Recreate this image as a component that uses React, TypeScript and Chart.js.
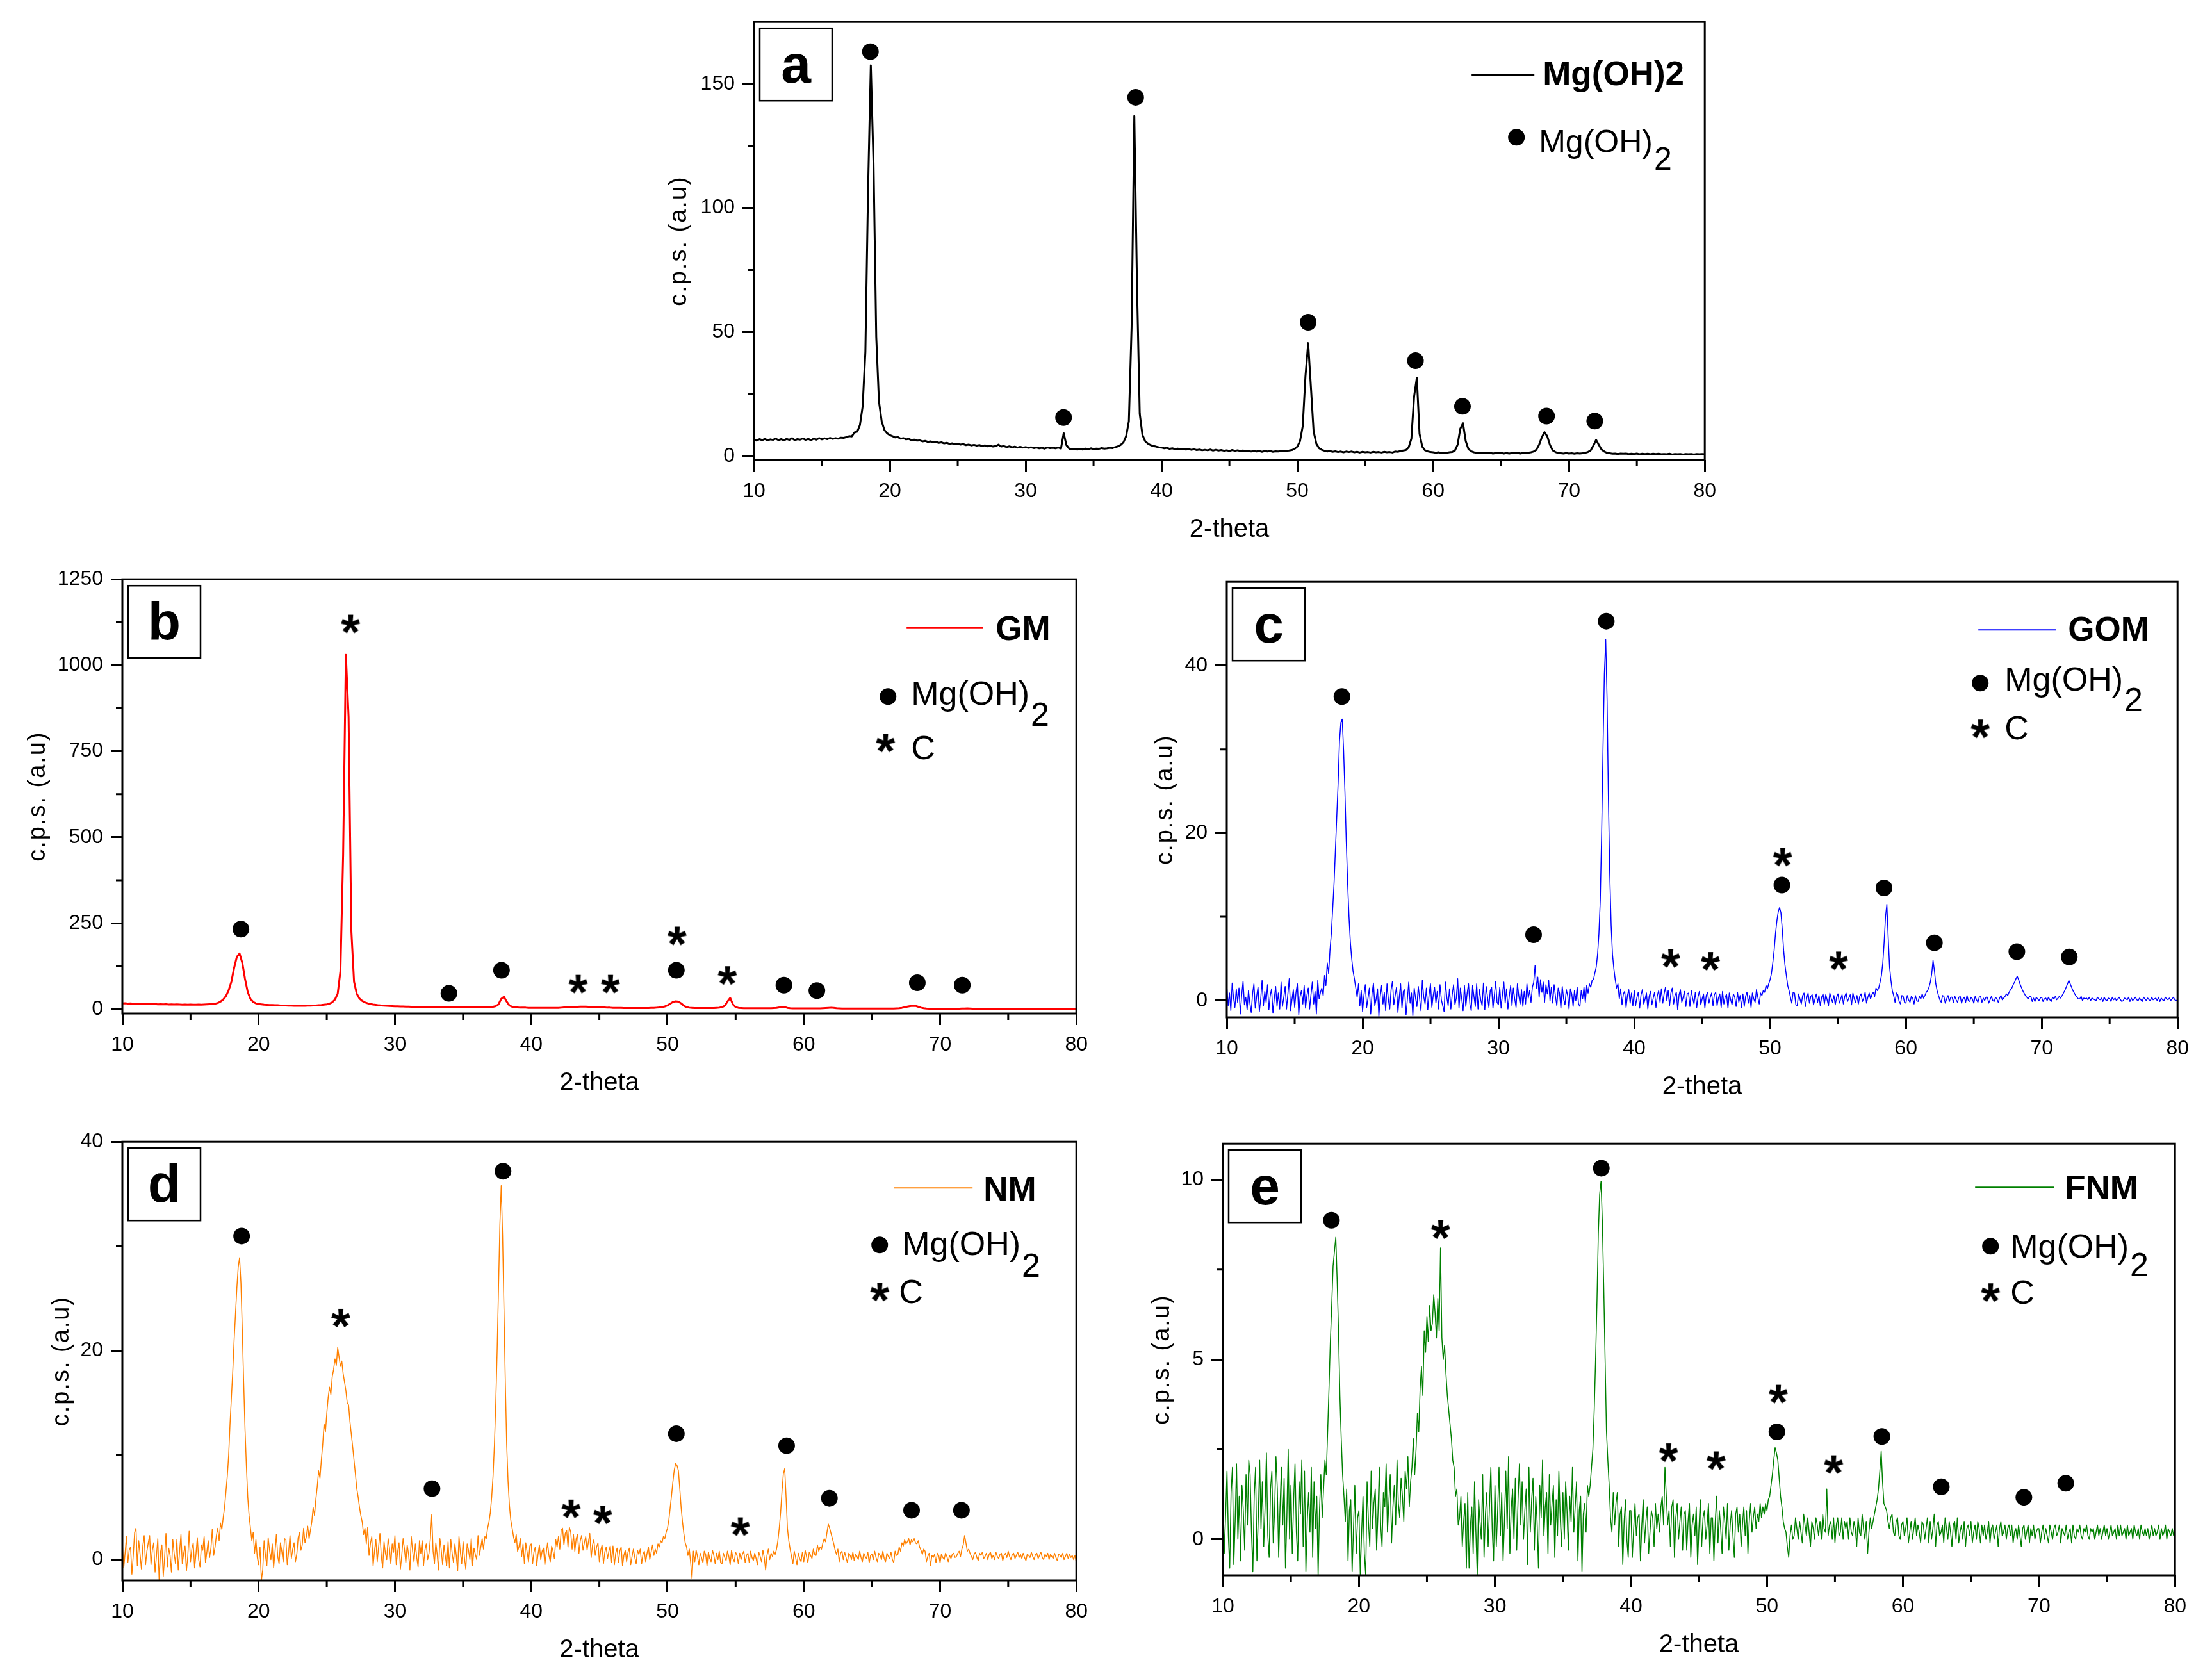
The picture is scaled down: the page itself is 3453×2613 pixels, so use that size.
import React, { useEffect, useRef } from 'react';
import Chart from 'chart.js/auto';

const FONT = '"Liberation Sans", Arial, Helvetica, sans-serif';

// scan grids (2-theta, degrees): 0.2 deg step for a/b, 0.1 deg step for c/d/e
const twoTheta: number[] = Array.from({ length: 351 }, (_, i) => Math.round((10 + i * 0.2) * 10) / 10);
const twoThetaFine: number[] = Array.from({ length: 701 }, (_, i) => Math.round((10 + i * 0.1) * 10) / 10);
const xTicks = [10, 20, 30, 40, 50, 60, 70, 80];
const xMinorTicks = [15, 25, 35, 45, 55, 65, 75];

// (a) Mg(OH)2
const cpsMgOH2 = [
  6.6, 6.2, 6.8, 6.4, 6.9, 6.3, 6.7, 6.5, 7.0, 6.4,
  6.8, 6.3, 6.9, 6.5, 7.2, 6.4, 6.8, 6.6, 7.1, 6.5,
  6.9, 6.4, 7.0, 6.6, 7.2, 6.7, 7.1, 6.8, 7.3, 6.9,
  7.2, 7.0, 7.4, 7.3, 7.6, 8.0, 7.9, 9.5, 9.8, 12.5,
  20, 42, 108, 157.5, 118, 48, 22, 14, 10.5, 9.2,
  8.4, 8.0, 7.5, 7.6, 7.0, 7.2, 6.7, 6.9, 6.4, 6.6,
  6.2, 6.3, 5.9, 6.1, 5.7, 5.9, 5.5, 5.7, 5.3, 5.5,
  5.1, 5.3, 4.9, 5.1, 4.7, 5.0, 4.6, 4.8, 4.4, 4.6,
  4.3, 4.5, 4.2, 4.4, 4.0, 4.3, 3.9, 4.1, 3.8, 4.0,
  4.6, 3.8, 4.0, 3.6, 3.9, 3.5, 3.8, 3.4, 3.7, 3.4,
  3.6, 3.3, 3.5, 3.2, 3.4, 3.1, 3.3, 3.0, 3.4, 3.2,
  3.3, 3.1, 3.4, 3.0, 9.2, 4.4, 3.0, 2.7, 2.9, 2.6,
  2.9, 2.6, 3.0, 2.7, 3.1, 2.8, 3.0, 2.9, 3.2, 3.0,
  3.1, 3.3, 3.2, 3.6, 3.9, 4.5, 5.5, 8.0, 14, 52,
  137, 68, 17, 8.5, 6.0, 5.0, 4.4, 4.0, 3.8, 3.5,
  3.4, 3.1, 3.3, 2.9, 3.1, 2.8, 3.0, 2.7, 2.9, 2.6,
  2.8, 2.5, 2.7, 2.4, 2.6, 2.3, 2.5, 2.3, 2.6, 2.2,
  2.5, 2.2, 2.4, 2.1, 2.3, 2.0, 2.4, 2.1, 2.3, 2.0,
  2.2, 1.9, 2.1, 1.8, 2.1, 1.8, 2.0, 1.7, 2.0, 1.8,
  2.0, 1.7, 1.9, 1.8, 2.0, 1.9, 2.1, 2.2, 2.4, 2.9,
  3.8, 6.0, 12, 32, 45.5, 28, 10, 5.0, 3.2, 2.5,
  2.1, 1.8, 2.0, 1.7, 1.9, 1.6, 1.8, 1.5, 1.8, 1.6,
  1.8, 1.5, 1.7, 1.4, 1.7, 1.5, 1.6, 1.4, 1.7, 1.5,
  1.6, 1.4, 1.7, 1.5, 1.6, 1.4, 1.8, 1.7, 2.0, 2.2,
  2.4, 3.5, 7.0, 24, 31.5, 9.0, 3.8, 2.3, 1.9, 1.6,
  1.5, 1.3, 1.5, 1.2, 1.4, 1.3, 1.5, 1.6, 2.2, 4.5,
  11, 13.2, 6.0, 2.8, 1.9, 1.5, 1.3, 1.4, 1.2, 1.3,
  1.1, 1.3, 1.0, 1.2, 1.1, 1.3, 1.0, 1.2, 1.0, 1.2,
  1.1, 1.3, 1.0, 1.2, 1.1, 1.3, 1.5, 1.8, 2.5, 4.5,
  7.5, 9.6, 8.0, 4.5, 2.3, 1.6, 1.2, 1.1, 1.0, 1.2,
  1.0, 1.1, 0.9, 1.1, 1.0, 1.1, 1.3, 1.6, 2.3, 4.2,
  6.5, 4.5, 2.6, 1.8, 1.3, 1.1, 0.9, 1.0, 0.8, 1.0,
  0.9, 1.0, 0.8, 0.9, 0.8, 1.0, 0.7, 0.9, 0.8, 0.9,
  0.7, 0.9, 0.8, 0.9, 0.7, 0.8, 0.7, 0.9, 0.6, 0.8,
  0.7, 0.8, 0.6, 0.8, 0.7, 0.8, 0.6, 0.8, 0.7, 0.8,
  0.7,
];
const mgPeaksA: [number, number][] = [
  [18.57, 163], [32.79, 15.5], [38.1, 144.6], [50.8, 53.9], [58.7, 38.4], [62.16, 20.0], [68.35, 16.1], [71.9, 14.1],
];

// (b) GM
const cpsGM = [
  17, 17.5, 16.5, 17, 16, 16.5, 15.5, 16, 15, 15.5,
  15, 14.5, 15, 14, 14.5, 14, 14.5, 13.5, 14, 13.5,
  14, 13.5, 13, 13.5, 13, 13.5, 13, 13, 13.5, 13,
  13.5, 14, 14.5, 15, 16, 18, 22, 28, 38, 55,
  80, 120, 152, 162, 135, 88, 50, 30, 21, 17,
  15, 14, 13, 12.5, 12, 12, 11.5, 11.5, 11, 11,
  11, 10.5, 10.5, 10, 10, 10, 10, 10, 10.5, 10.5,
  11, 11, 11.5, 12, 13, 14, 16, 20, 28, 45,
  110, 450, 1030, 850, 230, 80, 45, 31, 24, 20,
  17, 15, 13.5, 12.5, 11.5, 11, 10.5, 10, 9.5, 9,
  8.5, 8.5, 8, 8, 7.5, 7.5, 7, 7, 7, 6.5,
  6.5, 6.5, 6, 6, 6, 6, 5.5, 5.5, 5.5, 5.5,
  5.5, 5, 5, 5, 5, 5, 5, 5, 5, 5,
  5, 5, 5, 5, 5.5, 6, 7, 9, 14, 30,
  36, 22, 11, 7, 5.5, 5, 4.5, 4.5, 4.5, 4,
  4, 4, 4, 4, 4, 4, 4, 4, 4, 4,
  4, 4.5, 5, 5.5, 6, 6.5, 7, 7, 7.5, 7.5,
  7.5, 7, 7, 6.5, 6, 5.5, 5, 5, 4.5, 4.5,
  4, 4, 4, 4, 3.5, 3.5, 3.5, 3.5, 3.5, 3.5,
  3.5, 3.5, 3.5, 3.5, 4, 4, 4.5, 5, 6, 8,
  11, 16, 21, 23, 22, 17, 10, 6, 4.5, 4,
  3.5, 3.5, 3.5, 3.5, 3.5, 3.5, 3.5, 3.5, 4, 4.5,
  6, 10, 22, 33, 14, 6, 4, 3.5, 3, 3,
  3, 3, 3, 3, 3, 3, 3, 3, 3, 3.5,
  4, 5, 7, 6, 4, 3, 2.5, 2.5, 2.5, 2.5,
  2.5, 2.5, 2.5, 2.5, 2.5, 2.5, 2.5, 3, 3.5, 4,
  4.5, 4, 3, 2.5, 2, 2, 2, 2, 2, 2,
  2, 2, 2, 2, 2, 2, 2, 2, 2, 2,
  2, 2, 2, 2, 2.5, 3, 4, 5.5, 7.5, 9,
  10, 9.5, 7, 4.5, 3, 2, 1.5, 1.5, 1.5, 1.5,
  1.5, 1.5, 1.5, 1.5, 1.5, 1.5, 1.5, 1.5, 2, 2,
  2.5, 2, 1.5, 1.5, 1, 1, 1, 1, 1, 1,
  1, 1, 1, 0.9, 0.9, 0.9, 0.8, 0.8, 0.8, 0.8,
  0.7, 0.7, 0.7, 0.7, 0.6, 0.6, 0.6, 0.6, 0.5, 0.5,
  0.5, 0.5, 0.5, 0.4, 0.4, 0.4, 0.4, 0.3, 0.3, 0.3,
  0.3,
];
const mgPeaksB: [number, number][] = [
  [18.7, 233], [33.96, 46], [37.82, 113], [50.65, 113], [58.54, 70], [60.96, 54], [68.33, 77], [71.63, 70],
];
const cPeaksB: [number, number][] = [[26.74, 1119], [43.44, 72], [45.81, 72], [50.7, 212], [54.39, 97]];

// (c) GOM, 0.1 deg step
const cpsGOM = [
  1.8, -0.6, 0.9, -1.2, 2.1, 0.3, -0.8, 1.4, -0.2, 1.5, -1.6, 0.7, 2.3, -0.5, 0.4, -1.1, 1.2, -0.3, -1.4, 0.8,
  2.0, -0.9, 0.5, 1.6, -1.3, 0.2, 2.4, -0.6, 1.1, -0.2, 1.9, -1.1, 0.6, 1.4, -1.5, 0.3, 1.7, -0.7, 0.9, -1.0,
  2.2, -0.7, 0.4, 1.7, -1.0, 0.8, 2.6, -1.2, 0.1, 1.3, -0.8, 1.0, 2.0, -1.7, 0.5, 1.2, -0.4, 1.8, -0.9, 0.6,
  1.5, -1.0, 0.7, 2.2, -0.4, 1.1, -1.6, 2.4, 0.2, 1.0, 1.5, 0.6, 3.0, 1.8, 4.5, 3.2, 6, 8, 11, 14,
  18, 22, 26, 31, 33.2, 33.6, 30, 25, 19, 14, 10, 7, 5, 3.5, 2.6, 1.5, 0.4, 2.0, -0.6, 1.2,
  -1.3, 0.6, 1.9, -0.8, 0.3, 1.5, -1.6, 0.9, 2.1, -0.6, 0.2, 1.4, -1.9, 0.5, 1.8, -0.4, 1.0, -1.2, 2.0, 0.1,
  -1.0, 1.3, 2.3, -0.5, 0.6, 1.6, -1.4, 0.4, 2.0, -0.9, 1.1, 1.3, -1.7, 0.2, 2.2, -0.3, 0.9, -1.8, 1.5, 0.3,
  -0.7, 1.7, 0.2, -1.2, 2.4, 0.5, -0.4, 1.5, -1.1, 0.8, 2.0, -0.8, 0.6, 1.6, -0.3, 1.1, -1.0, 1.9, 0.1, -0.6,
  -1.3, 2.2, 0.4, -0.6, 1.4, -1.0, 0.7, 1.9, -0.5, 0.3, 2.6, -0.9, 1.5, 0.2, -1.2, 1.8, -0.7, 0.9, 2.0, -0.4,
  -1.2, 1.8, 0.5, -0.7, 2.0, -1.0, 1.3, 0.1, -0.6, 2.1, -1.1, 1.7, 0.4, -0.8, 1.2, 1.6, -0.9, 0.6, 2.3, -0.2,
  -0.5, 1.6, -0.9, 0.8, 2.2, -0.3, 1.4, -1.0, 0.5, 1.8, -0.6, 1.5, 0.2, -0.8, 2.0, 0.6, -0.4, 1.3, -0.7, 1.1,
  -0.4, 2.0, 0.3, 1.2, -0.2, 1.6, 2.2, 4.2, 1.5, 2.8, 0.4, 2.5, 1.0, 2.2, -0.2, 1.9, 0.8, 2.4, 0.0, 1.6,
  -0.3, 1.9, 0.5, -0.6, 1.5, 0.9, -0.9, 1.7, 0.2, -0.5, 1.3, 0.6, -1.0, 1.4, 0.8, -0.7, 1.2, 0.0, 1.6, -0.4,
  -0.7, 1.2, 0.2, 1.6, -0.2, 1.8, 0.9, 2.0, 1.6, 2.4, 2.5, 3.3, 4, 5.5, 8, 12, 20, 30, 39, 43.1,
  36, 24, 15, 9, 5.5, 3.8, 2.5, 1.5, 2.0, 0.2, 1.4, -0.5, 0.8, 1.1, -0.8, 0.6, 1.3, -0.3, 0.9, -0.6,
  1.2, -0.6, 0.4, 1.0, -0.9, 0.7, 1.3, -0.4, 0.2, 0.9, -1.0, 0.5, 1.1, -0.5, 0.3, 1.0, -0.8, 0.6, 1.2, -0.2,
  1.4, -0.3, 0.8, 1.6, 0.0, 1.2, -0.6, 0.9, 1.5, -0.4, 0.6, 1.0, -1.1, 0.7, 1.3, -0.2, 0.4, 1.1, -0.7, 0.8,
  0.9, -0.7, 1.2, 0.3, -0.4, 1.0, -0.8, 0.5, 1.1, -0.5, 0.2, 0.8, -0.9, 0.6, 1.0, -0.3, 0.4, 0.9, -0.6, 0.7,
  1.0, -0.6, 0.3, 0.8, -0.8, 1.1, -0.4, 0.5, 0.7, -0.9, 0.9, 0.1, -0.5, 0.8, 0.4, -0.7, 1.0, -0.2, 0.6, -0.8,
  0.8, -0.7, 0.5, 1.0, -0.3, 0.6, -0.8, 0.9, 0.2, -0.2, 1.3, 0.4, -0.4, 0.9, 0.6, 1.2, 1.0, 1.8, 1.4, 2.0,
  2.5, 3.2, 4.5, 6, 8, 9.5, 10.6, 11.1, 10.5, 8.5, 6, 4.2, 3, 1.8, 1.2, 0.4, -0.3, 1.0, 0.9, -0.5,
  -0.6, 0.8, 0.2, -0.4, 0.6, 0.9, -0.7, 0.3, 0.9, -0.3, 0.5, 0.7, -0.5, 0.1, 0.8, -0.2, 0.6, -0.6, 0.4, 0.8,
  -0.4, 0.7, 0.1, -0.6, 0.9, 0.3, -0.2, 0.6, -0.5, 0.4, 0.8, -0.3, 0.2, 0.7, -0.4, 0.5, 0.9, -0.1, 0.3, 0.7,
  -0.5, 0.9, 0.2, -0.2, 0.6, -0.4, 0.5, 0.8, -0.1, 0.3, 1.0, -0.3, 0.4, 0.9, 0.2, 0.7, 1.0, 0.5, 1.5, 1.2,
  1.5, 2.2, 3, 4.5, 7, 10, 11.5, 7.5, 4, 2.4, 1.2, 0.6, -0.2, 0.9, 0.7, -0.1, -0.4, 0.6, 0.5, -0.2,
  -0.3, 0.6, 0.1, -0.2, 0.5, 0.3, -0.4, 0.6, 0.0, -0.1, 0.5, 0.2, 0.8, 0.3, 0.6, 1.0, 1.2, 1.6, 2.2, 3.2,
  4.8, 3.6, 2.0, 1.2, 0.6, 0.1, -0.2, 0.6, 0.5, -0.3, 0.2, 0.6, -0.1, 0.4, 0.4, -0.2, 0.5, 0.1, -0.2, 0.4,
  0.5, -0.3, 0.2, 0.4, -0.2, 0.6, 0.0, -0.1, 0.4, 0.2, -0.3, 0.5, 0.1, -0.2, 0.4, 0.5, -0.2, 0.3, 0.0, 0.4,
  0.4, -0.3, 0.1, 0.5, 0.0, -0.1, 0.4, 0.2, -0.2, 0.3, 0.6, 0.1, 0.3, 0.5, 0.8, 0.6, 1.0, 1.3, 1.5, 1.9,
  2.2, 2.6, 2.9, 2.5, 2.0, 1.6, 1.2, 0.9, 0.6, 0.4, 0.2, 0.5, 0.5, -0.1, 0.3, -0.1, 0.4, 0.2, 0.0, 0.3,
  0.4, -0.1, 0.2, 0.3, 0.0, 0.4, 0.1, -0.1, 0.4, 0.2, 0.5, 0.1, 0.3, 0.5, 0.3, 0.6, 0.9, 1.2, 1.6, 2.0,
  2.4, 2.0, 1.6, 1.2, 0.9, 0.6, 0.4, 0.2, 0.2, 0.5, 0.0, 0.3, 0.2, 0.3, 0.1, 0.4, 0.0, 0.3, 0.2, 0.1,
  0.0, 0.4, 0.2, 0.1, 0.3, -0.1, 0.4, 0.1, 0.0, 0.3, 0.2, -0.1, 0.4, 0.1, 0.3, 0.0, 0.2, 0.4, 0.1, -0.1,
  0.0, 0.3, 0.2, 0.1, 0.4, -0.1, 0.3, 0.0, 0.2, 0.4, 0.1, 0.0, 0.3, 0.1, -0.1, 0.4, 0.2, 0.0, 0.3, 0.1,
  0.0, 0.4, 0.1, 0.2, 0.3, 0.0, 0.4, -0.1, 0.3, 0.1, 0.0, 0.4, 0.2, 0.1, 0.3, 0.0, 0.2, 0.4, 0.1, 0.0,
  0.1,
];
const mgPeaksC: [number, number][] = [
  [18.48, 36.3], [32.59, 7.87], [37.94, 45.3], [50.87, 13.8], [58.39, 13.45], [62.1, 6.9], [68.17, 5.84], [72.03, 5.2],
];
const cPeaksC: [number, number][] = [[42.68, 4.99], [45.61, 4.65], [50.92, 17.1], [55.04, 4.7]];

// (d) NM, 0.1 deg step
const cpsNM = [
  1.5, -0.8, 0.6, 2.2, -0.3, 0.9, 1.2, -1.4, 0.4, 2.6, 3.0, -0.6, 1.8, 0.5, -0.9, 1.3, 2.3, -0.5, 0.8, 1.6,
  2.3, -0.5, 0.9, 1.6, -1.2, 0.3, 2.0, -2.0, 0.7, 1.4, -1.6, 0.2, 2.5, -0.7, 1.1, 0.4, -1.2, 1.9, 0.6, -0.4,
  1.9, -1.0, 0.8, 2.4, -0.4, 0.6, 1.3, -1.1, 0.3, 2.7, -0.2, 1.0, 1.6, -0.8, 0.5, 2.1, 0.0, -0.7, 1.4, 0.9,
  2.2, -0.3, 0.7, 1.8, 0.2, 1.1, 2.9, 0.4, 1.2, 2.3, 3.0, 1.8, 3.5, 2.9, 4.0, 5.0, 6.5, 8, 10, 13,
  15.5, 18, 21, 23.5, 26, 28, 28.9, 26.5, 22, 17, 12.5, 9, 6, 4.2, 3, 1.8, 2.6, 0.6, 1.9, 0.2,
  -0.5, 1.2, -2.0, -1.0, 1.8, 0.4, -0.6, 2.1, 0.9, 0.0, 1.5, -0.8, 0.7, 2.4, 0.3, -0.4, 1.6, 0.8, -0.2, 2.0,
  1.9, -0.5, 0.7, 2.3, 0.1, 1.0, 1.6, -0.2, 0.5, 2.1, 2.6, 0.9, 1.4, 3.0, 1.6, 2.2, 3.2, 2.0, 2.8, 3.6,
  5.0, 4.2, 5.8, 7.0, 8.5, 7.8, 9.5, 11, 13, 12.2, 14, 15.5, 16.5, 15.8, 17.5, 18.2, 19.2, 18.6, 20.3, 19.4,
  18.5, 19.0, 17.8, 17.0, 16.2, 15.0, 14.8, 13.2, 12.0, 10.8, 9.5, 8.2, 6.8, 6.0, 5.0, 4.2, 3.6, 2.4, 3.0, 1.5,
  3.1, 0.4, 1.5, 2.2, -0.6, 0.8, 1.9, -0.2, 1.2, 2.5, 0.3, -0.8, 1.7, 0.6, 0.0, 2.0, 1.1, -0.4, 1.5, 0.7,
  2.3, -0.5, 0.8, 1.6, -0.9, 0.4, 2.0, 1.0, -0.3, 1.4, 0.5, -1.0, 2.2, 0.8, -0.2, 1.5, 0.2, -0.7, 1.8, 0.6,
  1.8, -0.6, 0.9, 1.5, 0.0, 0.6, 2.0, 4.3, 0.8, -0.4, 1.6, 0.5, -1.0, 2.0, 0.9, -0.5, 1.4, 0.3, -0.6, 1.7,
  -0.8, 1.9, 0.6, -0.3, 1.5, 0.4, -1.1, 2.2, 0.7, -0.4, 1.7, 0.2, -0.9, 1.5, 0.9, 0.0, 2.0, -0.6, 1.1, 0.5,
  0.0, 2.3, 0.4, 1.2, 2.0, 1.0, 2.2, 2.0, 3.0, 3.6, 4.5, 6, 8, 11, 15, 20, 26, 32, 35.8, 31,
  24, 17, 11, 7.5, 5.2, 3.8, 3.0, 2.2, 1.6, 2.4, 0.8, 1.2, 2.0, 0.3, 1.5, -0.4, 1.6, 0.7, -0.2, 1.3,
  1.5, -0.4, 0.7, 1.2, -0.6, 0.5, 1.4, 0.0, 0.8, 1.1, -0.5, 0.6, 1.6, 0.4, -0.2, 1.3, 0.8, 0.1, 1.9, 1.2,
  2.2, 1.0, 2.8, 3.0, 1.4, 2.5, 2.8, 1.2, 3.1, 2.6, 1.0, 2.4, 0.8, 2.0, 2.4, 0.6, 1.8, 2.3, 0.9, 1.6,
  2.2, 0.9, 1.7, 2.5, 0.2, 1.4, 1.9, 0.4, 1.2, 1.6, -0.2, 0.9, 1.4, -0.4, 0.7, 1.2, 0.1, 0.8, 1.3, -0.3,
  1.3, -0.5, 0.6, 1.1, -0.3, 0.8, 1.2, -0.6, 0.4, 0.9, -0.2, 0.7, 1.1, -0.5, 0.3, 1.0, 0.2, -0.4, 0.9, 0.5,
  1.0, -0.4, 0.5, 0.8, -0.2, 0.6, 1.2, 0.0, 0.7, 1.4, 0.4, 1.0, 0.6, 1.5, 1.2, 1.8, 1.6, 2.2, 2.0, 2.6,
  3.0, 3.8, 5.0, 6.2, 7.5, 8.6, 9.2, 9.0, 8.5, 6.8, 5.0, 3.6, 2.5, 1.6, 1.2, 0.4, 1.0, -0.3, -1.8, 0.8,
  -0.2, 0.9, 0.3, -0.5, 0.6, 0.2, -0.3, 0.8, 0.5, -0.6, 0.7, 0.1, -0.2, 0.9, 0.4, -0.4, 0.6, 0.0, 0.8, -0.3,
  -0.4, 0.6, 0.2, -0.1, 0.8, 0.3, -0.5, 0.9, 0.1, -0.2, 0.7, 0.4, -0.4, 0.6, 0.0, 0.5, 0.8, -0.3, 0.4, 0.6,
  -0.3, 0.8, 0.2, -0.1, 0.6, 0.1, -0.5, 0.7, 0.3, -0.2, 0.9, 0.2, -1.0, 0.4, 1.0, 0.0, 0.6, 0.3, 0.8, 0.5,
  1.0, 1.8, 3, 4.5, 6.5, 8.2, 8.7, 6.0, 3, 1.8, 1.0, 0.3, -0.4, 0.8, 0.2, -0.5, 0.6, 0.1, -0.2, 0.7,
  -0.2, 0.9, 0.3, -0.3, 0.7, 0.4, 0.1, 1.0, 0.5, 0.4, 1.4, 0.8, 1.2, 1.0, 1.6, 2.0, 1.7, 2.6, 3.4, 3.0,
  2.5, 2.0, 1.5, 0.9, 0.5, 1.0, -0.2, 0.6, 0.8, 0.0, 0.7, 0.2, -0.3, 0.6, 0.4, 0.0, 0.7, -0.1, 0.5, 0.3,
  0.0, 0.8, 0.2, -0.2, 0.6, 0.3, 0.1, 0.7, -0.3, 0.4, 0.5, 0.0, 0.8, 0.2, -0.2, 0.6, 0.4, 0.0, 0.8, 0.1,
  -0.2, 0.6, 0.3, 0.1, 0.7, 0.0, -0.3, 0.8, 0.4, 0.5, 1.2, 0.8, 1.6, 1.3, 1.9, 1.5, 1.7, 2.0, 1.4, 1.9,
  1.7, 2.0, 1.6, 1.5, 1.8, 1.2, 0.9, 0.5, 1.0, 0.8, -0.2, 0.3, 0.6, -0.6, 0.4, 0.2, 0.5, -0.3, 0.6, 0.4,
  -0.3, 0.5, 0.2, 0.0, 0.6, 0.3, -0.2, 0.4, 0.1, 0.5, 0.6, 0.2, 0.3, 0.6, 0.8, 0.3, 1.0, 1.4, 2.3, 1.6,
  0.8, 1.0, 0.6, 0.3, 0.0, 0.5, 0.7, 0.2, -0.1, 0.6, 0.4, 0.7, 0.1, 0.3, 0.6, 0.0, 0.5, 0.7, 0.1, 0.4,
  0.0, 0.7, 0.3, 0.1, 0.5, 0.6, -0.1, 0.4, 0.6, 0.2, 0.8, 0.3, 0.0, 0.5, 0.6, 0.1, 0.4, 0.7, 0.2, 0.5,
  0.1, 0.6, 0.2, -0.1, 0.5, 0.4, 0.2, 0.7, 0.3, 0.0, 0.5, 0.6, 0.1, 0.4, 0.7, 0.2, 0.0, 0.5, 0.3, 0.6,
  0.0, 0.5, 0.3, 0.1, 0.6, 0.2, -0.1, 0.5, 0.4, 0.2, 0.6, 0.0, 0.3, 0.6, 0.1, 0.5, 0.2, 0.4, 0.0, 0.4,
  -0.3,
];
const mgPeaksD: [number, number][] = [
  [18.75, 30.97], [32.72, 6.79], [37.93, 37.18], [50.65, 12.05], [58.74, 10.9], [61.88, 5.87], [67.91, 4.72], [71.57, 4.72],
];
const cPeaksD: [number, number][] = [[26.02, 23.09], [42.92, 4.82], [45.24, 4.25], [55.34, 3.12]];

// (e) FNM, 0.1 deg step
const cpsFNM = [
  1.6, -0.4, 0.7, 1.9, 0.1, -0.8, 1.3, 2.0, -0.7, 0.5, 2.1, 0.0, 1.2, -0.6, 1.5, 0.8, -0.3, 1.8, 0.4, 2.2,
  1.8, 0.2, -0.9, 1.2, 2.0, -0.6, 0.6, 2.2, 0.3, 1.6, -0.2, 0.9, 2.4, 0.1, -0.5, 1.4, 1.9, -0.1, 0.8, 2.3,
  1.4, -0.5, 0.9, 2.0, 0.4, 1.7, -0.8, 0.6, 2.5, 0.0, 1.5, -0.4, 1.1, 2.1, 0.2, -0.6, 1.6, 0.7, 2.2, -0.2,
  1.9, -0.9, 0.5, 1.3, 0.2, 2.0, -0.5, 1.6, 0.3, 1.2, -1.0, 0.8, 1.8, 0.6, 1.4, 2.2, 1.8, 3.0, 4.2, 5.5,
  6.5, 7.6, 8.0, 8.4, 7.2, 5.8, 4.0, 2.8, 1.8, 1.2, 0.5, 1.4, -0.6, 0.8, 1.1, -0.9, 0.3, 1.5, -0.4, 0.6,
  0.8, -1.0, 0.2, 1.2, -0.4, -1.0, 1.6, 0.5, -0.2, 1.9, 0.3, 1.0, 1.4, -0.3, 0.7, 2.0, 0.4, -0.2, 1.3, 0.9,
  2.1, 0.2, 1.0, 1.8, -0.1, 0.9, 1.5, 0.4, 2.2, 1.0, 0.6, 1.7, 1.2, 0.5, 1.9, 1.4, 2.3, 0.9, 1.6, 2.0,
  2.8, 1.8, 2.5, 3.5, 3.0, 4.2, 4.8, 4.0, 5.8, 5.2, 6.2, 5.5, 6.5, 5.8, 6.0, 6.8, 6.3, 5.6, 6.7, 5.8,
  8.1, 5.6, 5.0, 5.4, 4.6, 4.0, 3.6, 3.2, 2.8, 2.2, 2.0, 1.2, 1.4, 0.4, 0.6, 1.2, -0.2, 0.5, 1.0, -0.8,
  1.3, -0.8, 0.4, 0.9, -0.4, 1.6, 0.2, -1.0, 1.1, 0.5, 0.0, 1.8, -0.5, 0.7, 1.3, -0.2, 0.9, 2.0, 0.3, -0.6,
  1.5, -0.2, 0.8, 2.0, 0.1, 1.3, -0.6, 0.5, 1.9, 0.3, 2.3, -0.4, 0.9, 1.4, 0.0, 1.7, -0.3, 1.1, 2.1, 0.4,
  1.6, 0.0, 0.8, 1.4, -0.7, 2.0, 0.2, 1.1, 1.7, -0.3, 1.2, 0.5, -0.8, 1.5, 0.6, 2.2, 0.1, 0.9, 1.3, -0.4,
  1.8, 0.4, 1.0, 1.5, -0.5, 1.1, 0.1, 1.9, 0.6, -0.2, 1.3, 0.0, 1.6, 0.8, -0.3, 1.2, 0.5, 2.0, 0.2, 0.9,
  1.6, -0.6, 0.8, 1.2, -0.9, 0.7, 1.0, 0.2, 1.5, 1.2, 1.5, 2.0, 2.5, 3.6, 5.0, 6.6, 8.5, 9.6, 9.95, 8.8,
  7.0, 5.0, 3.0, 2.2, 1.5, 0.6, 0.2, 1.3, 0.4, 1.0, 1.3, -0.2, 0.7, 0.9, -0.7, 0.5, 1.1, 0.0, -0.5, 0.8,
  0.8, -0.5, 0.3, 1.0, 0.1, 0.6, 0.7, -0.6, 0.4, 1.1, -0.1, 0.5, 0.9, -0.4, 0.2, 0.8, 0.6, -0.2, 1.0, 0.3,
  0.7, 0.2, 0.9, 1.2, 0.4, 2.0, 1.2, 0.4, 0.8, -0.2, 0.9, 1.1, -0.5, 0.6, 1.0, 0.0, 0.5, 0.9, -0.3, 0.7,
  0.8, -0.3, 0.5, 1.0, -0.5, 0.4, 0.7, 0.1, 0.9, -0.7, 0.3, 1.1, -0.2, 0.6, 0.8, 0.0, 0.4, 1.0, -0.4, 0.6,
  0.6, -0.6, 0.5, 1.2, -0.1, 0.8, 0.3, -0.4, 0.9, 0.5, 0.0, 1.0, -0.3, 0.4, 0.8, 0.1, -0.5, 0.7, 0.9, 0.2,
  0.7, -0.2, 0.4, 0.9, 0.1, 0.8, -0.4, 0.5, 1.0, 0.2, 0.6, 0.9, 0.3, 0.7, 0.5, 1.0, 0.6, 0.9, 0.7, 1.0,
  0.8, 1.1, 1.2, 1.5, 1.8, 2.2, 2.55, 2.4, 2.2, 1.7, 1.2, 0.9, 0.5, 0.3, 0.2, -0.2, -0.5, 0.1, 0.4, 0.0,
  0.1, 0.6, 0.3, 0.0, 0.5, 0.2, -0.1, 0.7, 0.4, 0.1, 0.6, 0.2, -0.2, 0.5, 0.3, 0.0, 0.6, 0.4, 0.1, 0.5,
  0.0, 0.7, 0.3, 0.2, 1.4, 0.1, 0.4, 0.5, 0.0, 0.6, -0.1, 0.4, 0.6, 0.1, 0.2, 0.6, 0.0, 0.5, 0.3, 0.5,
  0.0, 0.6, 0.2, 0.1, 0.5, 0.3, -0.2, 0.6, 0.2, 0.1, 0.7, 0.3, 0.0, 0.5, -0.4, 0.2, 0.6, 0.3, 0.5, 0.7,
  0.9, 1.1, 1.4, 1.9, 2.45, 1.6, 1.0, 0.9, 0.8, 0.5, 0.3, 0.6, 0.7, 0.2, 0.1, 0.5, 0.6, 0.1, 0.0, 0.4,
  0.5, 0.1, 0.3, 0.6, -0.1, 0.2, 0.5, 0.0, 0.3, 0.6, 0.1, 0.4, 0.2, -0.1, 0.5, 0.4, 0.0, 0.3, 0.6, -0.1,
  0.5, 0.0, 0.3, 0.7, -0.2, 0.4, 0.5, 0.1, 0.2, 0.4, -0.1, 0.6, 0.3, 0.0, 0.5, 0.2, -0.2, 0.4, 0.5, 0.0,
  0.6, -0.1, 0.2, 0.4, 0.0, 0.5, -0.2, 0.3, 0.4, 0.1, 0.5, -0.1, 0.2, 0.4, 0.0, 0.5, 0.3, -0.1, 0.4, 0.1,
  0.4, 0.0, 0.2, 0.5, -0.1, 0.3, 0.4, 0.0, 0.2, 0.4, -0.2, 0.3, 0.5, 0.1, 0.2, 0.4, 0.0, 0.3, 0.4, 0.1,
  0.4, -0.1, 0.2, 0.3, 0.0, 0.4, 0.1, -0.2, 0.3, 0.4, 0.0, 0.2, 0.4, -0.1, 0.3, 0.1, 0.4, 0.0, 0.2, 0.3,
  0.3, -0.1, 0.2, 0.4, 0.0, 0.3, 0.1, -0.1, 0.4, 0.2, 0.0, 0.3, 0.4, 0.1, 0.2, 0.4, -0.1, 0.3, 0.2, 0.1,
  0.4, 0.0, 0.2, 0.3, -0.1, 0.4, 0.1, 0.0, 0.3, 0.2, 0.4, 0.1, 0.0, 0.3, 0.2, 0.4, 0.1, 0.0, 0.3, 0.2,
  0.3, 0.0, 0.2, 0.4, 0.1, 0.3, 0.0, 0.2, 0.4, 0.1, 0.3, 0.0, 0.2, 0.4, 0.1, 0.2, 0.3, 0.0, 0.4, 0.1,
  0.4, 0.1, 0.2, 0.3, 0.0, 0.4, 0.1, 0.2, 0.3, 0.0, 0.4, 0.2, 0.1, 0.3, 0.0, 0.4, 0.2, 0.1, 0.3, 0.1,
  0.3, 0.0, 0.2, 0.4, 0.1, 0.3, 0.1, 0.2, 0.4, 0.0, 0.3, 0.1, 0.2, 0.4, 0.0, 0.3, 0.2, 0.1, 0.3, 0.1,
  0.2,
];
const mgPeaksE: [number, number][] = [
  [17.98, 8.87], [37.82, 10.32], [50.73, 2.99], [58.45, 2.86], [62.82, 1.46], [68.89, 1.17], [71.97, 1.56],
];
const cPeaksE: [number, number][] = [[26.0, 8.6], [42.76, 2.4], [46.26, 2.18], [50.83, 4.03], [54.9, 2.07]];

type Pt = [number, number];

interface Legend {
  line: [number, number, number];
  name: [number, number];
  dot: [number, number];
  mg: [number, number];
  subDy: number;
  textSize: number;
  star?: [number, number];
  c?: [number, number];
}

interface Panel {
  letter: string;
  name: string;
  color: string;
  lineWidth: number;
  legendLineWidth: number;
  grid: number[];
  values: number[];
  mg: Pt[];
  c: Pt[];
  yMin: number;
  yMax: number;
  yTicks: number[];
  yMinor: number[];
  rect: { l: number; t: number; r: number; b: number };
  yTitleGap: number;
  legend: Legend;
}

const panels: Panel[] = [
  {
    letter: 'a', name: 'Mg(OH)2', color: '#000000', lineWidth: 3, legendLineWidth: 3,
    grid: twoTheta, values: cpsMgOH2, mg: mgPeaksA, c: [],
    yMin: -1.6, yMax: 175, yTicks: [0, 50, 100, 150], yMinor: [25, 75, 125],
    rect: { l: 1177, t: 23, r: 2671, b: 718 }, yTitleGap: 116,
    legend: { line: [-364, -266, 83], name: [-253, 99], dot: [-294, 180], mg: [-259, 204], subDy: 27, textSize: 50 },
  },
  {
    letter: 'b', name: 'GM', color: '#ff0000', lineWidth: 3, legendLineWidth: 3,
    grid: twoTheta, values: cpsGM, mg: mgPeaksB, c: cPeaksB,
    yMin: -12.5, yMax: 1250, yTicks: [0, 250, 500, 750, 1000, 1250], yMinor: [125, 375, 625, 875, 1125],
    rect: { l: 191, t: 893, r: 1690, b: 1582 }, yTitleGap: 131,
    legend: { line: [-265, -146, 76], name: [-126, 95], dot: [-294, 183], mg: [-258, 196], subDy: 33, textSize: 52, star: [-298, 256], c: [-258, 281] },
  },
  {
    letter: 'c', name: 'GOM', color: '#0000ff', lineWidth: 1.5, legendLineWidth: 2,
    grid: twoThetaFine, values: cpsGOM, mg: mgPeaksC, c: cPeaksC,
    yMin: -2, yMax: 50, yTicks: [0, 20, 40], yMinor: [10, 30],
    rect: { l: 1915, t: 897, r: 3409, b: 1588 }, yTitleGap: 95,
    legend: { line: [-311, -190, 75], name: [-171, 92], dot: [-308, 158], mg: [-270, 170], subDy: 32, textSize: 52, star: [-308, 230], c: [-270, 246] },
  },
  {
    letter: 'd', name: 'NM', color: '#ff8000', lineWidth: 1.5, legendLineWidth: 2,
    grid: twoThetaFine, values: cpsNM, mg: mgPeaksD, c: cPeaksD,
    yMin: -2, yMax: 40, yTicks: [0, 20, 40], yMinor: [10, 30],
    rect: { l: 191, t: 1771, r: 1690, b: 2467 }, yTitleGap: 94,
    legend: { line: [-285, -162, 72], name: [-145, 92], dot: [-307, 161], mg: [-272, 177], subDy: 34, textSize: 52, star: [-307, 235], c: [-277, 252] },
  },
  {
    letter: 'e', name: 'FNM', color: '#008000', lineWidth: 1.5, legendLineWidth: 2,
    grid: twoThetaFine, values: cpsFNM, mg: mgPeaksE, c: cPeaksE,
    yMin: -1, yMax: 11, yTicks: [0, 5, 10], yMinor: [2.5, 7.5],
    rect: { l: 1909, t: 1774, r: 3405, b: 2459 }, yTitleGap: 94,
    legend: { line: [-312, -189, 68], name: [-172, 87], dot: [-288, 160], mg: [-257, 178], subDy: 29, textSize: 52, star: [-288, 233], c: [-257, 250] },
  },
];

const PAD_L = 180;
const PAD_T = 20;
const PAD_R = 20;
const PAD_B = 150;

function makeAsterisk(targetW: number): HTMLCanvasElement {
  const cv = document.createElement('canvas');
  cv.width = 48;
  cv.height = 48;
  const g = cv.getContext('2d') as CanvasRenderingContext2D;
  let size = 90;
  g.font = `bold ${size}px ${FONT}`;
  let m = g.measureText('*');
  const w = m.actualBoundingBoxLeft + m.actualBoundingBoxRight;
  if (w > 0) size = (size * targetW) / w;
  g.font = `bold ${size}px ${FONT}`;
  m = g.measureText('*');
  g.fillStyle = '#000';
  g.textAlign = 'left';
  g.textBaseline = 'alphabetic';
  const x = 24 - (m.actualBoundingBoxRight - m.actualBoundingBoxLeft) / 2;
  const y = 24 + (m.actualBoundingBoxAscent - m.actualBoundingBoxDescent) / 2;
  g.fillText('*', x, y);
  return cv;
}

const XrdPanel: React.FC<{ panel: Panel }> = ({ panel }) => {
  const canvasRef = useRef<HTMLCanvasElement>(null);
  const chartRef = useRef<Chart | null>(null);

  useEffect(() => {
    if (!canvasRef.current) return;
    if (chartRef.current) chartRef.current.destroy();
    const ctx = canvasRef.current.getContext('2d');
    if (!ctx) return;

    const star = makeAsterisk(30);
    const lg = panel.legend;

    const decor = {
      id: 'decor',
      afterDraw(chart: any) {
        const c = chart.ctx as CanvasRenderingContext2D;
        const a = chart.chartArea;
        const sx = chart.scales.x;
        const sy = chart.scales.y;
        c.save();
        c.strokeStyle = '#000';
        c.fillStyle = '#000';

        // frame
        c.lineWidth = 3;
        c.strokeRect(a.left, a.top, a.right - a.left, a.bottom - a.top);

        // minor ticks
        c.beginPath();
        xMinorTicks.forEach((v) => {
          const px = sx.getPixelForValue(v);
          c.moveTo(px, a.bottom);
          c.lineTo(px, a.bottom + 10);
        });
        panel.yMinor.forEach((v) => {
          const py = sy.getPixelForValue(v);
          c.moveTo(a.left - 10, py);
          c.lineTo(a.left, py);
        });
        c.stroke();

        // panel letter box
        const bx = a.left + 9;
        const by = a.top + 10;
        c.fillStyle = '#fff';
        c.fillRect(bx, by, 113, 113);
        c.lineWidth = 2.5;
        c.strokeRect(bx, by, 113, 113);
        c.fillStyle = '#000';
        c.font = `bold 84px ${FONT}`;
        c.textAlign = 'center';
        c.textBaseline = 'alphabetic';
        c.fillText(panel.letter, bx + 56.5, by + 85);

        // axis titles
        c.font = `40px ${FONT}`;
        c.textAlign = 'center';
        c.textBaseline = 'middle';
        c.fillText('2-theta', (a.left + a.right) / 2, a.bottom + 109);
        c.save();
        c.translate(a.left - panel.yTitleGap, (a.top + a.bottom) / 2);
        c.rotate(-Math.PI / 2);
        c.font = `38px ${FONT}`;
        (c as any).letterSpacing = '2px';
        c.fillText('c.p.s. (a.u)', 0, 0);
        c.restore();

        // legend
        const R = a.right;
        const T = a.top;
        c.strokeStyle = panel.color;
        c.lineWidth = panel.legendLineWidth;
        c.beginPath();
        c.moveTo(R + lg.line[0], T + lg.line[2]);
        c.lineTo(R + lg.line[1], T + lg.line[2]);
        c.stroke();
        c.fillStyle = '#000';
        c.textAlign = 'left';
        c.textBaseline = 'alphabetic';
        c.font = `bold 53px ${FONT}`;
        c.fillText(panel.name, R + lg.name[0], T + lg.name[1]);

        c.beginPath();
        c.arc(R + lg.dot[0], T + lg.dot[1], 13, 0, Math.PI * 2);
        c.fill();
        c.font = `${lg.textSize}px ${FONT}`;
        const mgText = 'Mg(OH)';
        c.fillText(mgText, R + lg.mg[0], T + lg.mg[1]);
        const w = c.measureText(mgText).width;
        c.fillText('2', R + lg.mg[0] + w + 2, T + lg.mg[1] + lg.subDy);
        if (lg.star && lg.c) {
          c.drawImage(star, R + lg.star[0] - 24, T + lg.star[1] - 24);
          c.fillText('C', R + lg.c[0], T + lg.c[1]);
        }
        c.restore();
      },
    };

    const datasets: any[] = [
      {
        label: panel.name,
        data: panel.grid.map((x, i) => ({ x, y: panel.values[i] })),
        borderColor: panel.color,
        backgroundColor: panel.color,
        borderWidth: panel.lineWidth,
        pointRadius: 0,
        tension: 0,
        borderJoinStyle: 'round',
        order: 2,
      },
      {
        label: 'Mg(OH)2',
        data: panel.mg.map(([x, y]) => ({ x, y })),
        showLine: false,
        pointStyle: 'circle',
        pointRadius: 13,
        pointBackgroundColor: '#000',
        pointBorderWidth: 0,
        order: 1,
      },
    ];
    if (panel.c.length) {
      datasets.push({
        label: 'C',
        data: panel.c.map(([x, y]) => ({ x, y })),
        showLine: false,
        pointStyle: star,
        pointRadius: 15,
        order: 1,
      });
    }

    const tickFont = { family: FONT, size: 32 };

    chartRef.current = new Chart(ctx, {
      type: 'line',
      data: { datasets },
      options: {
        responsive: true,
        maintainAspectRatio: false,
        animation: false,
        events: [],
        layout: { padding: { left: 0, top: PAD_T, right: PAD_R, bottom: 0 } },
        plugins: { legend: { display: false }, tooltip: { enabled: false } },
        scales: {
          x: {
            type: 'linear',
            min: 10,
            max: 80,
            afterBuildTicks: (scale: any) => {
              scale.ticks = xTicks.map((v) => ({ value: v }));
            },
            afterFit: (scale: any) => {
              scale.height = PAD_B;
            },
            border: { display: false },
            grid: { drawOnChartArea: false, drawTicks: true, tickLength: 18, tickWidth: 3, tickColor: '#000' },
            ticks: {
              color: '#000',
              font: tickFont,
              padding: 12,
              autoSkip: false,
              maxRotation: 0,
              callback: (v: any) => String(v),
            },
          },
          y: {
            type: 'linear',
            min: panel.yMin,
            max: panel.yMax,
            afterBuildTicks: (scale: any) => {
              scale.ticks = panel.yTicks.map((v) => ({ value: v }));
            },
            afterFit: (scale: any) => {
              scale.width = PAD_L;
            },
            border: { display: false },
            grid: { drawOnChartArea: false, drawTicks: true, tickLength: 18, tickWidth: 3, tickColor: '#000' },
            ticks: {
              color: '#000',
              font: tickFont,
              padding: 12,
              autoSkip: false,
              callback: (v: any) => String(v),
            },
          },
        },
      } as any,
      plugins: [decor],
    });

    return () => {
      if (chartRef.current) {
        chartRef.current.destroy();
        chartRef.current = null;
      }
    };
  }, [panel]);

  const { l, t, r, b } = panel.rect;
  return (
    <div
      style={{
        position: 'absolute',
        left: l - PAD_L,
        top: t - PAD_T,
        width: r - l + PAD_L + PAD_R,
        height: b - t + PAD_T + PAD_B,
      }}
    >
      <canvas ref={canvasRef}></canvas>
    </div>
  );
};

export default function App() {
  return (
    <div style={{ position: 'fixed', left: 0, top: 0, width: 3453, height: 2613, background: '#fff', overflow: 'hidden' }}>
      {panels.map((p) => (
        <XrdPanel key={p.letter} panel={p} />
      ))}
    </div>
  );
}
